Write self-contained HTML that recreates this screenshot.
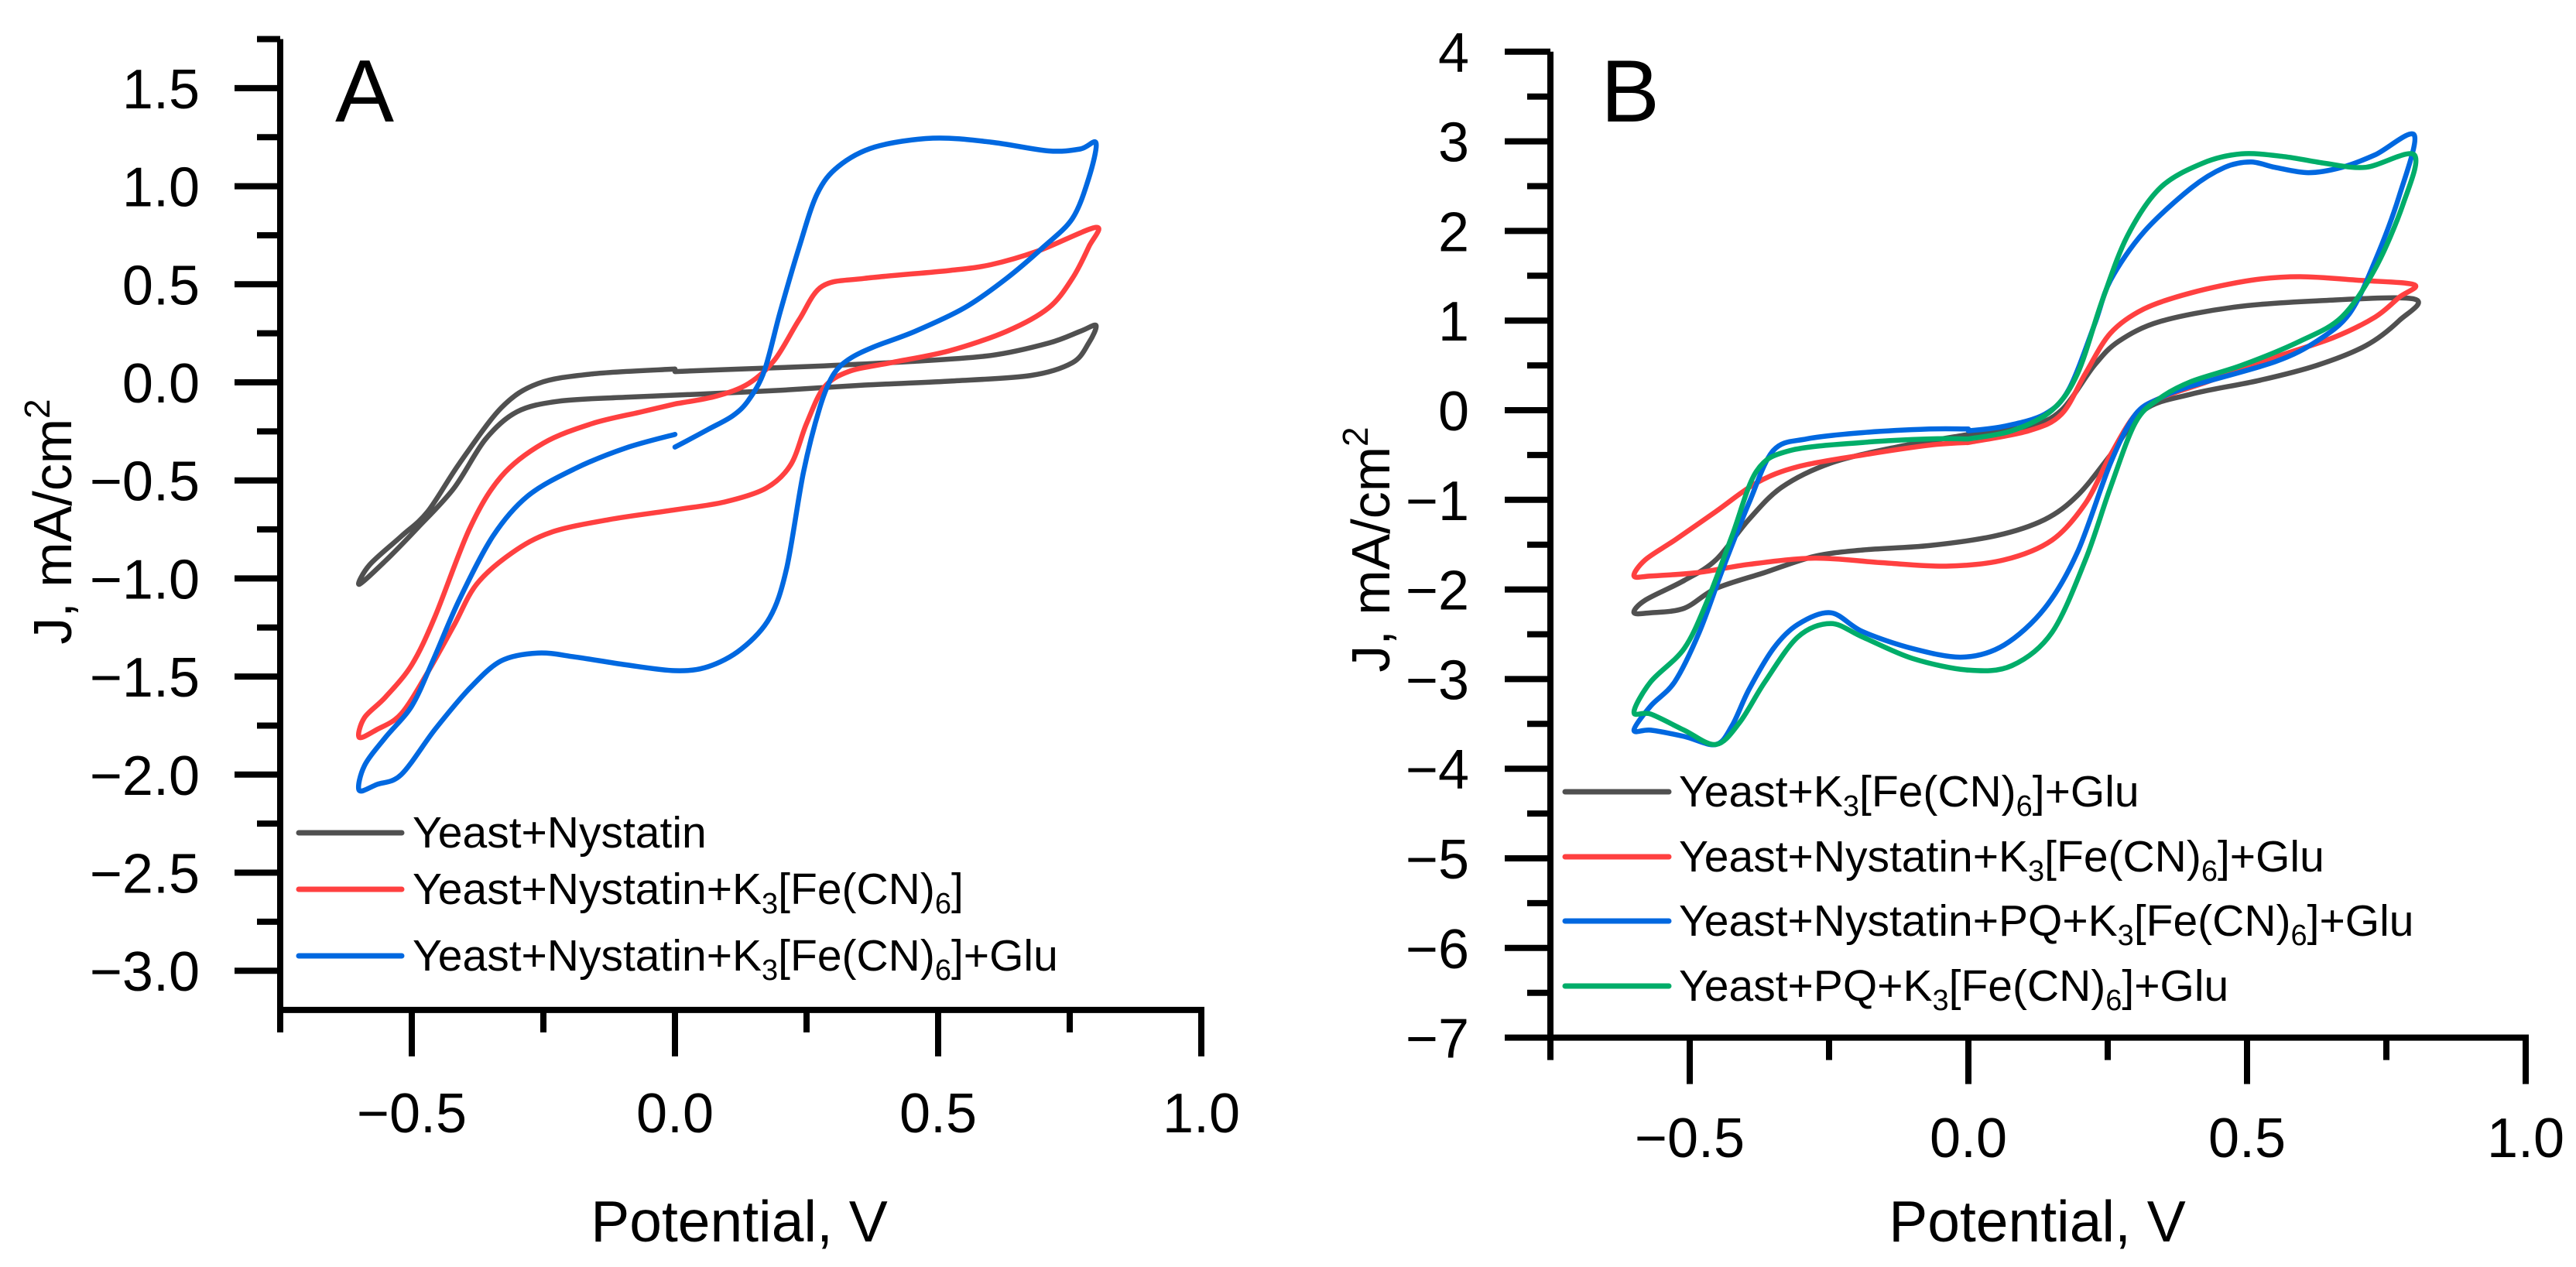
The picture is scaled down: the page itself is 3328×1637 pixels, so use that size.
<!DOCTYPE html>
<html><head><meta charset="utf-8">
<style>
html,body{margin:0;padding:0;background:#fff;}
svg{display:block;font-family:"Liberation Sans",Arial,sans-serif;}
</style></head>
<body>
<svg id="fig" xmlns="http://www.w3.org/2000/svg" width="3328" height="1637" viewBox="0 0 3328 1637">
<rect width="3328" height="1637" fill="#fff"/>
<g id="panelA"></g>
<g id="panelB"></g>

<text x="433" y="157" font-size="114">A</text>
<text x="2068" y="157" font-size="114">B</text>

<text x="955" y="1604" font-size="75" text-anchor="middle">Potential, V</text>
<text x="2632" y="1604" font-size="75" text-anchor="middle">Potential, V</text>
<text transform="translate(92,674) rotate(-90)" font-size="70" text-anchor="middle">J, mA/cm<tspan font-size="46" dy="-28">2</tspan></text>
<text transform="translate(1795,710) rotate(-90)" font-size="70" text-anchor="middle">J, mA/cm<tspan font-size="46" dy="-28">2</tspan></text>

<!-- Legend A -->
<g font-size="57">
 <g>
  <line x1="386" y1="1076" x2="519" y2="1076" stroke="#505050" stroke-width="7" stroke-linecap="round"/>
  <text x="533" y="1095">Yeast+Nystatin</text>
 </g>
 <g>
  <line x1="386" y1="1149" x2="519" y2="1149" stroke="#ff4040" stroke-width="7" stroke-linecap="round"/>
  <text x="533" y="1168">Yeast+Nystatin+K<tspan font-size="38" dy="12">3</tspan><tspan dy="-12">[Fe(CN)</tspan><tspan font-size="38" dy="12">6</tspan><tspan dy="-12">]</tspan></text>
 </g>
 <g>
  <line x1="386" y1="1235" x2="519" y2="1235" stroke="#0068e0" stroke-width="7" stroke-linecap="round"/>
  <text x="533" y="1254">Yeast+Nystatin+K<tspan font-size="38" dy="12">3</tspan><tspan dy="-12">[Fe(CN)</tspan><tspan font-size="38" dy="12">6</tspan><tspan dy="-12">]+Glu</tspan></text>
 </g>
</g>

<!-- Legend B -->
<g font-size="57">
 <g>
  <line x1="2022" y1="1023" x2="2156" y2="1023" stroke="#505050" stroke-width="7" stroke-linecap="round"/>
  <text x="2169" y="1042">Yeast+K<tspan font-size="38" dy="12">3</tspan><tspan dy="-12">[Fe(CN)</tspan><tspan font-size="38" dy="12">6</tspan><tspan dy="-12">]+Glu</tspan></text>
 </g>
 <g>
  <line x1="2022" y1="1107" x2="2156" y2="1107" stroke="#ff4040" stroke-width="7" stroke-linecap="round"/>
  <text x="2169" y="1126">Yeast+Nystatin+K<tspan font-size="38" dy="12">3</tspan><tspan dy="-12">[Fe(CN)</tspan><tspan font-size="38" dy="12">6</tspan><tspan dy="-12">]+Glu</tspan></text>
 </g>
 <g>
  <line x1="2022" y1="1190" x2="2156" y2="1190" stroke="#0068e0" stroke-width="7" stroke-linecap="round"/>
  <text x="2169" y="1209">Yeast+Nystatin+PQ+K<tspan font-size="38" dy="12">3</tspan><tspan dy="-12">[Fe(CN)</tspan><tspan font-size="38" dy="12">6</tspan><tspan dy="-12">]+Glu</tspan></text>
 </g>
 <g>
  <line x1="2022" y1="1274" x2="2156" y2="1274" stroke="#00ad69" stroke-width="7" stroke-linecap="round"/>
  <text x="2169" y="1293">Yeast+PQ+K<tspan font-size="38" dy="12">3</tspan><tspan dy="-12">[Fe(CN)</tspan><tspan font-size="38" dy="12">6</tspan><tspan dy="-12">]+Glu</tspan></text>
 </g>
</g>
</svg>

<script>
// ---------- Panel A data ----------
const xTicksA = [-0.5, 0.0, 0.5, 1.0];
const xTickLabelsA = ["\u22120.5", "0.0", "0.5", "1.0"];
const xMinorA = [-0.75, -0.25, 0.25, 0.75];
const yTicksA = [1.5, 1.0, 0.5, 0.0, -0.5, -1.0, -1.5, -2.0, -2.5, -3.0];
const yTickLabelsA = ["1.5","1.0","0.5","0.0","\u22120.5","\u22121.0","\u22121.5","\u22122.0","\u22122.5","\u22123.0"];
const yMinorA = [1.75, 1.25, 0.75, 0.25, -0.25, -0.75, -1.25, -1.75, -2.25, -2.75];

const grayA = [[0,0.055],[0.126,0.068],[0.283,0.084],[0.44,0.105],[0.60,0.137],[0.71,0.2],[0.77,0.26],[0.80,0.29],
 [0.786,0.2],[0.755,0.1],[0.676,0.035],[0.52,0.006],[0.36,-0.014],[0.204,-0.04],[0.047,-0.06],[-0.094,-0.076],[-0.22,-0.096],[-0.30,-0.15],[-0.36,-0.29],[-0.42,-0.54],[-0.49,-0.745],[-0.55,-0.91],[-0.60,-1.03],
 [-0.58,-0.93],[-0.52,-0.785],[-0.47,-0.66],[-0.41,-0.415],[-0.33,-0.13],[-0.26,-0.006],[-0.157,0.043],[0,0.068]];
const redA = [[0,-0.11],[0.079,-0.07],[0.14,-0.006],[0.19,0.117],[0.236,0.32],[0.28,0.49],[0.36,0.53],[0.52,0.57],[0.60,0.60],[0.69,0.67],[0.80,0.79],
 [0.786,0.69],[0.755,0.53],[0.71,0.38],[0.63,0.26],[0.52,0.16],[0.41,0.10],[0.33,0.055],[0.283,-0.027],[0.25,-0.21],[0.22,-0.42],[0.173,-0.54],[0.094,-0.61],[0,-0.65],[-0.126,-0.70],[-0.236,-0.765],[-0.31,-0.87],[-0.377,-1.03],[-0.42,-1.24],[-0.47,-1.48],[-0.52,-1.69],[-0.566,-1.77],[-0.60,-1.81],
 [-0.59,-1.71],[-0.55,-1.605],[-0.50,-1.44],[-0.456,-1.195],[-0.39,-0.745],[-0.33,-0.48],[-0.25,-0.31],[-0.157,-0.21],[-0.063,-0.15],[0,-0.11]];
const blueA = [[0,-0.33],[0.063,-0.24],[0.11,-0.17],[0.14,-0.09],[0.17,0.06],[0.20,0.36],[0.236,0.69],[0.27,0.96],[0.31,1.10],[0.38,1.20],[0.49,1.245],[0.60,1.225],[0.71,1.18],[0.77,1.19],[0.80,1.22],
 [0.786,1.04],[0.755,0.835],[0.70,0.69],[0.63,0.53],[0.55,0.38],[0.456,0.26],[0.377,0.18],[0.33,0.117],[0.30,0.035],[0.275,-0.13],[0.244,-0.46],[0.212,-0.95],[0.18,-1.2],[0.126,-1.36],[0.063,-1.45],[0,-1.47],[-0.094,-1.44],[-0.19,-1.40],[-0.26,-1.38],[-0.33,-1.42],[-0.39,-1.56],[-0.456,-1.77],[-0.52,-2.0],[-0.566,-2.05],[-0.60,-2.08],
 [-0.59,-1.955],[-0.55,-1.81],[-0.50,-1.65],[-0.46,-1.42],[-0.41,-1.11],[-0.346,-0.785],[-0.28,-0.58],[-0.19,-0.44],[-0.094,-0.335],[0,-0.265]];

// ---------- Panel B data ----------
const xTicksB = [-0.5, 0.0, 0.5, 1.0];
const xTickLabelsB = ["\u22120.5", "0.0", "0.5", "1.0"];
const xMinorB = [-0.75, -0.25, 0.25, 0.75];
const yTicksB = [4,3,2,1,0,-1,-2,-3,-4,-5,-6,-7];
const yTickLabelsB = ["4","3","2","1","0","\u22121","\u22122","\u22123","\u22124","\u22125","\u22126","\u22127"];
const yMinorB = [3.5,2.5,1.5,0.5,-0.5,-1.5,-2.5,-3.5,-4.5,-5.5,-6.5];

const grayB = [[0,-0.27],[0.108,-0.18],[0.167,0],[0.226,0.50],[0.27,0.77],[0.344,0.99],[0.477,1.15],[0.625,1.22],[0.80,1.24],
 [0.773,1.0],[0.713,0.72],[0.625,0.50],[0.52,0.33],[0.40,0.18],[0.315,0],[0.255,-0.50],[0.196,-0.95],[0.137,-1.22],[0.05,-1.40],[-0.07,-1.51],[-0.19,-1.56],[-0.276,-1.63],[-0.365,-1.81],[-0.453,-1.99],[-0.51,-2.21],[-0.57,-2.26],[-0.60,-2.26],
 [-0.58,-2.12],[-0.51,-1.90],[-0.453,-1.67],[-0.394,-1.22],[-0.335,-0.86],[-0.247,-0.59],[-0.128,-0.41],[0,-0.27]];
const redB = [[0,-0.36],[0.108,-0.23],[0.167,-0.045],[0.21,0.41],[0.255,0.86],[0.315,1.13],[0.40,1.31],[0.507,1.45],[0.595,1.49],[0.70,1.45],[0.80,1.40],
 [0.773,1.26],[0.73,1.04],[0.655,0.81],[0.55,0.59],[0.43,0.32],[0.344,0.135],[0.30,-0.045],[0.255,-0.50],[0.21,-1.04],[0.15,-1.45],[0.064,-1.67],[-0.04,-1.74],[-0.158,-1.70],[-0.276,-1.65],[-0.394,-1.72],[-0.483,-1.81],[-0.57,-1.85],[-0.60,-1.85],
 [-0.58,-1.67],[-0.527,-1.45],[-0.453,-1.13],[-0.38,-0.81],[-0.306,-0.63],[-0.19,-0.50],[-0.07,-0.39],[0,-0.36]];
const blueB = [[0,-0.23],[0.064,-0.18],[0.137,-0.045],[0.18,0.23],[0.226,0.95],[0.255,1.45],[0.315,1.99],[0.40,2.48],[0.46,2.71],[0.507,2.77],[0.55,2.71],[0.61,2.65],[0.67,2.71],[0.73,2.85],[0.80,3.07],
 [0.773,2.39],[0.73,1.67],[0.684,1.08],[0.625,0.77],[0.55,0.54],[0.40,0.27],[0.344,0.135],[0.30,-0.045],[0.255,-0.59],[0.196,-1.58],[0.137,-2.21],[0.064,-2.62],[-0.01,-2.755],[-0.10,-2.66],[-0.19,-2.47],[-0.247,-2.26],[-0.306,-2.39],[-0.35,-2.66],[-0.394,-3.12],[-0.424,-3.52],[-0.453,-3.73],[-0.51,-3.64],[-0.57,-3.57],[-0.60,-3.57],
 [-0.57,-3.30],[-0.527,-3.03],[-0.483,-2.48],[-0.44,-1.76],[-0.394,-1.04],[-0.35,-0.45],[-0.29,-0.32],[-0.19,-0.25],[-0.07,-0.21],[0,-0.21]];
const greenB = [[0,-0.32],[0.078,-0.23],[0.15,0],[0.196,0.41],[0.24,1.22],[0.285,1.94],[0.344,2.48],[0.42,2.755],[0.49,2.86],[0.566,2.83],[0.64,2.755],[0.713,2.71],[0.80,2.85],
 [0.78,2.30],[0.73,1.58],[0.67,1.04],[0.595,0.77],[0.49,0.50],[0.40,0.32],[0.344,0.135],[0.30,-0.135],[0.255,-0.86],[0.21,-1.67],[0.15,-2.48],[0.078,-2.85],[0,-2.90],[-0.10,-2.77],[-0.19,-2.53],[-0.247,-2.38],[-0.306,-2.53],[-0.365,-3.03],[-0.41,-3.48],[-0.453,-3.73],[-0.51,-3.57],[-0.57,-3.39],[-0.60,-3.37],
 [-0.57,-3.03],[-0.51,-2.66],[-0.468,-2.12],[-0.424,-1.40],[-0.38,-0.68],[-0.32,-0.45],[-0.19,-0.36],[-0.07,-0.32],[0,-0.32]];

// ---------- axis functions ----------
function xA(v){ return 872 + 680*v; }
function yA(j){ return 494 - 253.4*j; }
function xB(v){ return 2543 + 720*v; }
function yB(j){ return 530 - 115.8*j; }

const NS = "http://www.w3.org/2000/svg";
function mk(tag, attrs, parent){
  const e = document.createElementNS(NS, tag);
  for (const k in attrs) e.setAttribute(k, attrs[k]);
  parent.appendChild(e);
  return e;
}
function smoothPath(pts){
  let d = "M" + pts[0][0].toFixed(1) + "," + pts[0][1].toFixed(1);
  for (let i=0;i<pts.length-1;i++){
    const p0 = pts[Math.max(0,i-1)], p1 = pts[i], p2 = pts[i+1], p3 = pts[Math.min(pts.length-1,i+2)];
    const t = 0.16;
    const c1x = p1[0] + (p2[0]-p0[0])*t, c1y = p1[1] + (p2[1]-p0[1])*t;
    const c2x = p2[0] - (p3[0]-p1[0])*t, c2y = p2[1] - (p3[1]-p1[1])*t;
    d += " C" + c1x.toFixed(1)+","+c1y.toFixed(1)+" "+c2x.toFixed(1)+","+c2y.toFixed(1)+" "+p2[0].toFixed(1)+","+p2[1].toFixed(1);
  }
  return d;
}

function drawPanel(g, fx, fy, xMin, xMax, yMin, yMax, xt, xtl, xm, yt, ytl, ym, labelRight, xLabelBase, series){
  const axL = fx(xMin), axB = fy(yMin), axT = fy(yMax), axR = fx(xMax);
  series.forEach(s=>{
    const pts = s.data.map(p=>[fx(p[0]), fy(p[1])]);
    const p = mk("path", {d: smoothPath(pts), fill:"none", stroke:s.color, "stroke-width":6.5, "stroke-linejoin":"round", "stroke-linecap":"round"}, g);
    
    
  });
  const ya = mk("line", {x1:axL, y1:axT, x2:axL, y2:axB+28, stroke:"#000", "stroke-width":8}, g);
  
  
  const xa = mk("line", {x1:axL-4, y1:axB, x2:axR+4, y2:axB, stroke:"#000", "stroke-width":8}, g);
  
  
  xt.forEach((v,i)=>{
    const t = mk("line", {x1:fx(v), y1:axB, x2:fx(v), y2:axB+60, stroke:"#000", "stroke-width":8}, g);
    
    
    const tx = mk("text", {x:fx(v), y:xLabelBase, "font-size":72, "text-anchor":"middle"}, g);
    tx.textContent = xtl[i];
    
    
  });
  xm.forEach(v=>{
    const t = mk("line", {x1:fx(v), y1:axB, x2:fx(v), y2:axB+29, stroke:"#000", "stroke-width":8}, g);
    
    
  });
  yt.forEach((v,i)=>{
    const t = mk("line", {x1:axL-59, y1:fy(v), x2:axL, y2:fy(v), stroke:"#000", "stroke-width":8}, g);
    
    
    const tx = mk("text", {x:labelRight, y:fy(v)+26, "font-size":72, "text-anchor":"end"}, g);
    tx.textContent = ytl[i];
    
    
  });
  ym.forEach(v=>{
    const t = mk("line", {x1:axL-30, y1:fy(v), x2:axL, y2:fy(v), stroke:"#000", "stroke-width":8}, g);
    
    
  });
}

drawPanel(document.getElementById("panelA"), xA, yA, -0.75, 1.0, -3.2, 1.75,
  xTicksA, xTickLabelsA, xMinorA, yTicksA, yTickLabelsA, yMinorA, 258, 1463,
  [{name:"curve-yeast-nystatin", color:"#505050", data:grayA},
   {name:"curve-yeast-nystatin-k3", color:"#ff4040", data:redA},
   {name:"curve-yeast-nystatin-k3-glu", color:"#0068e0", data:blueA}]);

drawPanel(document.getElementById("panelB"), xB, yB, -0.75, 1.0, -7, 4,
  xTicksB, xTickLabelsB, xMinorB, yTicksB, yTickLabelsB, yMinorB, 1898, 1495,
  [{name:"curve-yeast-k3-glu", color:"#505050", data:grayB},
   {name:"curve-yeast-nystatin-k3-glu-b", color:"#ff4040", data:redB},
   {name:"curve-yeast-nystatin-pq-k3-glu", color:"#0068e0", data:blueB},
   {name:"curve-yeast-pq-k3-glu", color:"#00ad69", data:greenB}]);
</script>
</body></html>
